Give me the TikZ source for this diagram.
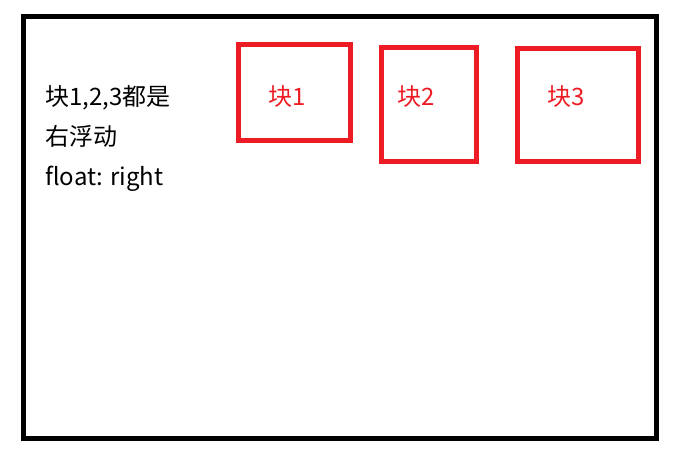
\documentclass[tikz,border=0pt]{standalone}
\usepackage{fontspec}
\setmainfont{Noto Sans CJK SC}
\definecolor{boxred}{HTML}{ED1C24}
\begin{document}
\begin{tikzpicture}[x=1pt,y=-1pt,
  outerbox/.style={draw=black,line width=5pt},
  floatbox/.style={draw=boxred,line width=5pt},
  lbl/.style={anchor=base west,inner sep=0pt,font=\fontsize{24}{28}\selectfont},
  redlbl/.style={lbl,text=boxred}]
\useasboundingbox (0,0) rectangle (680,452);
\draw[outerbox] (23,16.5) rectangle (656.5,438.5);
\draw[floatbox] (238.5,44.5) rectangle (350.5,140.5);
\draw[floatbox] (381.5,47.5) rectangle (476,161.5);
\draw[floatbox] (517.5,48.5) rectangle (638.5,161.5);
\node[lbl] (t1) at (45,105.5) {块1,2,3都是};
\node[lbl] (t2) at (45,145.5) {右浮动};
\node[lbl] (t3) at (45,185) {float: right};
\node[redlbl] (b1) at (268,105.5) {块1};
\node[redlbl] (b2) at (397,105.5) {块2};
\node[redlbl] (b3) at (547,105.5) {块3};
\end{tikzpicture}
\end{document}
